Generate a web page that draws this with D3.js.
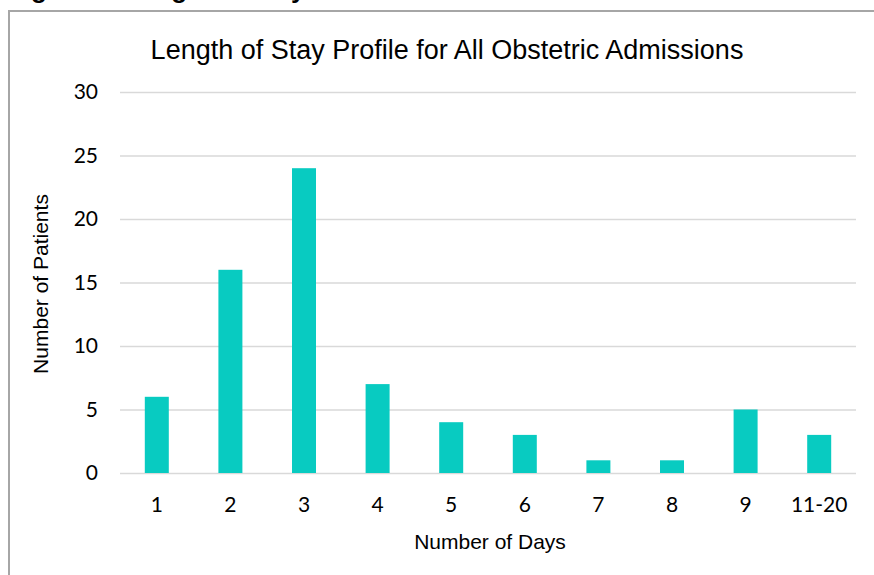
<!DOCTYPE html>
<html>
<head>
<meta charset="utf-8">
<script src="https://cdn.jsdelivr.net/npm/d3@7"></script>
<style>
  html, body { margin: 0; padding: 0; background: #ffffff; overflow: hidden; }
  svg { display: block; }
</style>
</head>
<body>
<script>
// Length of stay distribution for obstetric admissions
const categories = ["1", "2", "3", "4", "5", "6", "7", "8", "9", "11-20"];
const patients = [6, 16, 24, 7, 4, 3, 1, 1, 5, 3];
const yTicks = [0, 5, 10, 15, 20, 25, 30];

const W = 874, H = 575;
const plot = { left: 120, right: 856, top: 92, bottom: 473 };

const svg = d3.select("body").append("svg")
  .attr("width", W).attr("height", H);

// Document caption above the chart frame (runs off the top edge)
svg.append("text")
  .attr("x", 8).attr("y", -2.5)
  .attr("font-family", "Liberation Sans, Arial, sans-serif")
  .attr("font-weight", "bold")
  .attr("font-size", 26)
  .attr("fill", "#000")
  .text("Figure 5: Length of Stay");

// Chart frame: only its top and left edges fall inside the page
svg.append("path")
  .attr("d", `M9,${H + 5} V11 H${W + 5}`)
  .attr("fill", "none")
  .attr("stroke", "#a6a6a6")
  .attr("stroke-width", 2);

const x = d3.scaleBand()
  .domain(categories)
  .range([plot.left, plot.right])
  .paddingInner(0.674)
  .paddingOuter(0.337);

const y = d3.scaleLinear()
  .domain([0, 30])
  .range([plot.bottom, plot.top]);

// Gridlines and y labels
const yAxis = d3.axisLeft(y)
  .tickValues(yTicks)
  .tickSize(-(plot.right - plot.left))
  .tickPadding(22);

const gy = svg.append("g")
  .attr("transform", `translate(${plot.left},0)`)
  .call(yAxis);
gy.select(".domain").remove();
gy.selectAll(".tick line")
  .attr("stroke", "#d9d9d9")
  .attr("stroke-width", 1.5);
gy.selectAll(".tick text")
  .attr("font-family", "Lato, 'Open Sans', sans-serif")
  .attr("font-size", 21)
  .attr("fill", "#000");

// Bars
svg.append("g")
  .selectAll("rect")
  .data(categories)
  .join("rect")
  .attr("x", d => x(d))
  .attr("width", x.bandwidth())
  .attr("y", (d, i) => y(patients[i]))
  .attr("height", (d, i) => y(0) - y(patients[i]))
  .attr("fill", "#08cbc1");

// X axis labels
const xAxis = d3.axisBottom(x).tickSize(0).tickPadding(24);
const gx = svg.append("g")
  .attr("transform", `translate(0,${plot.bottom})`)
  .call(xAxis);
gx.select(".domain").remove();
gx.selectAll(".tick text")
  .attr("font-family", "Lato, 'Open Sans', sans-serif")
  .attr("font-size", 21)
  .attr("fill", "#000");

// Title
svg.append("text")
  .attr("x", 447).attr("y", 59)
  .attr("text-anchor", "middle")
  .attr("font-family", "Liberation Sans, Arial, sans-serif")
  .attr("font-size", 27)
  .attr("fill", "#000")
  .text("Length of Stay Profile for All Obstetric Admissions");

// Axis titles
svg.append("text")
  .attr("transform", "translate(48,284) rotate(-90)")
  .attr("text-anchor", "middle")
  .attr("font-family", "Liberation Sans, Arial, sans-serif")
  .attr("font-size", 21)
  .attr("fill", "#000")
  .text("Number of Patients");

svg.append("text")
  .attr("x", 490).attr("y", 549)
  .attr("text-anchor", "middle")
  .attr("font-family", "Liberation Sans, Arial, sans-serif")
  .attr("font-size", 21)
  .attr("fill", "#000")
  .text("Number of Days");
</script>
</body>
</html>
